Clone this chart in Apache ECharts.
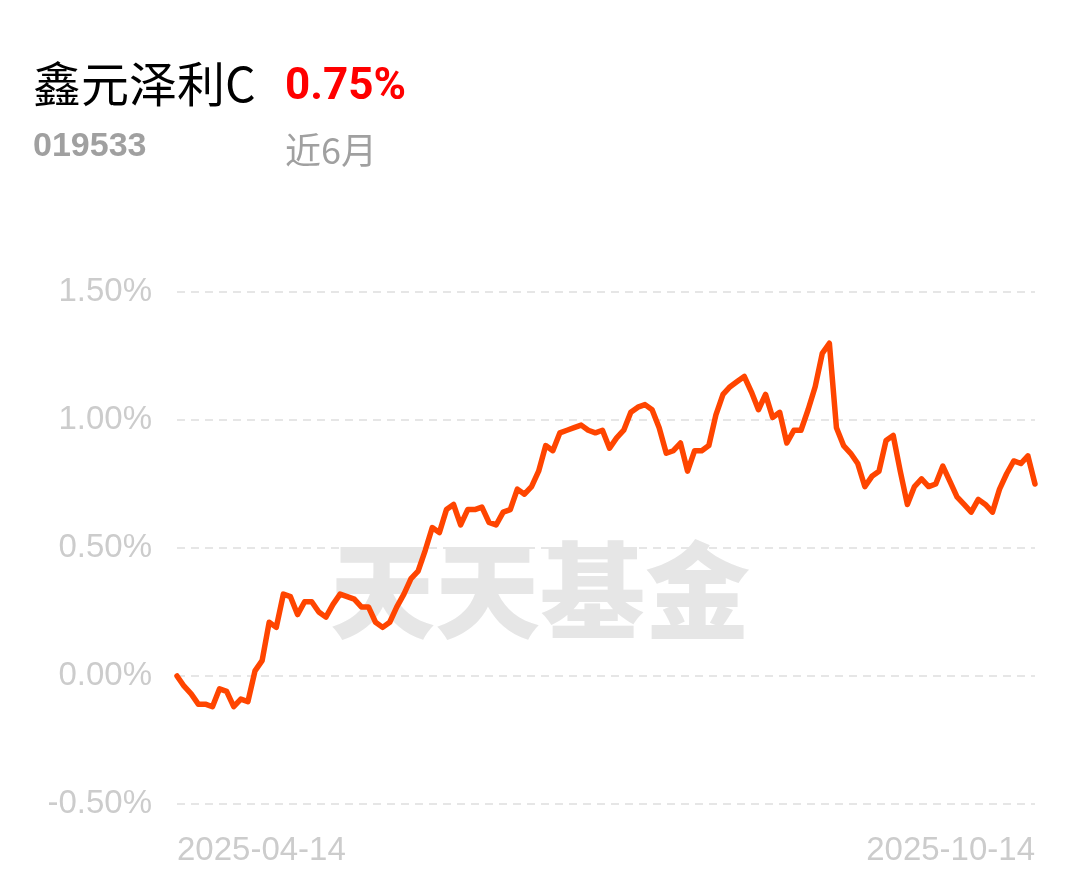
<!DOCTYPE html>
<html>
<head>
<meta charset="utf-8">
<style>
html,body{margin:0;padding:0;background:#fff;}
#chart{width:1080px;height:881px;}
</style>
<script src="https://cdn.jsdelivr.net/npm/echarts@6/dist/echarts.min.js"></script>
</head>
<body>
<div id="chart"></div>
<script>
// ---- data ----
const fundName = '鑫元泽利C';
const fundCode = '019533';
const periodReturn = '0.75%';
const periodLabel = '近6月';
const watermark = '天天基金';

const dates = [
  '2025-04-14','2025-04-15','2025-04-16','2025-04-17','2025-04-18','2025-04-21','2025-04-22','2025-04-23','2025-04-24','2025-04-25','2025-04-28','2025-04-29','2025-04-30',
  '2025-05-06','2025-05-07','2025-05-08','2025-05-09','2025-05-12','2025-05-13','2025-05-14','2025-05-15','2025-05-16','2025-05-19','2025-05-20','2025-05-21','2025-05-22','2025-05-23','2025-05-26','2025-05-27','2025-05-28','2025-05-29','2025-05-30',
  '2025-06-03','2025-06-04','2025-06-05','2025-06-06','2025-06-09','2025-06-10','2025-06-11','2025-06-12','2025-06-13','2025-06-16','2025-06-17','2025-06-18','2025-06-19','2025-06-20','2025-06-23','2025-06-24','2025-06-25','2025-06-26','2025-06-27','2025-06-30',
  '2025-07-01','2025-07-02','2025-07-03','2025-07-04','2025-07-07','2025-07-08','2025-07-09','2025-07-10','2025-07-11','2025-07-14','2025-07-15','2025-07-16','2025-07-17','2025-07-18','2025-07-21','2025-07-22','2025-07-23','2025-07-24','2025-07-25','2025-07-28','2025-07-29','2025-07-30','2025-07-31',
  '2025-08-01','2025-08-04','2025-08-05','2025-08-06','2025-08-07','2025-08-08','2025-08-11','2025-08-12','2025-08-13','2025-08-14','2025-08-15','2025-08-18','2025-08-19','2025-08-20','2025-08-21','2025-08-22','2025-08-25','2025-08-26','2025-08-27','2025-08-28','2025-08-29',
  '2025-09-01','2025-09-02','2025-09-03','2025-09-04','2025-09-05','2025-09-08','2025-09-09','2025-09-10','2025-09-11','2025-09-12','2025-09-15','2025-09-16','2025-09-17','2025-09-18','2025-09-19','2025-09-22','2025-09-23','2025-09-24','2025-09-25','2025-09-26','2025-09-29','2025-09-30',
  '2025-10-09','2025-10-10','2025-10-13','2025-10-14'
];

// cumulative return, percent
const returns = [
  0.00,-0.04,-0.07,-0.11,-0.11,-0.12,-0.05,-0.06,-0.12,-0.09,-0.10,0.02,0.06,
  0.21,0.19,0.32,0.31,0.24,0.29,0.29,0.25,0.23,0.28,0.32,0.31,0.30,0.27,0.27,0.21,0.19,0.21,
  0.27,0.32,0.38,0.41,0.49,0.58,0.56,0.65,0.67,0.59,0.65,0.65,0.66,0.60,0.59,0.64,0.65,0.73,0.71,0.74,
  0.80,0.90,0.88,0.95,0.96,0.97,0.98,0.96,0.95,0.96,0.89,0.93,0.96,1.03,1.05,1.06,1.04,0.97,0.87,0.88,0.91,0.80,
  0.88,0.88,0.90,1.02,1.10,1.13,1.15,1.17,1.11,1.04,1.10,1.01,1.03,0.91,0.96,0.96,1.04,1.13,1.26,1.30,0.97,
  0.90,0.87,0.83,0.74,0.78,0.80,0.92,0.94,0.80,0.67,0.74,0.77,0.74,0.75,0.82,0.76,0.70,0.67,0.64,0.69,0.67,0.64,
  0.73,0.79,0.84,0.83,0.86,0.75
];

const yMin = -0.5, yMax = 1.5, yStep = 0.5;

// ---- chart ----
const chart = echarts.init(document.getElementById('chart'), null, {renderer: 'canvas'});
const lastIdx = dates.length - 1;

chart.setOption({
  animation: false,
  backgroundColor: '#ffffff',
  title: [
    {text: fundName, left: 33, top: 60, padding: 0,
     textStyle: {fontSize: 48, fontWeight: 'normal', color: '#000', fontFamily: '"Noto Sans CJK SC", sans-serif'}},
    {text: periodReturn, left: 285, top: 66, padding: 0,
     textStyle: {fontSize: 44, fontWeight: 'bold', color: '#ff0000', fontFamily: 'Roboto, sans-serif'}},
    {text: fundCode, left: 33, top: 130, padding: 0,
     textStyle: {fontSize: 34, fontWeight: 'bold', color: '#a0a0a0', fontFamily: '"Liberation Sans", Arial, sans-serif'}},
    {text: periodLabel, left: 285, top: 132, padding: 0,
     textStyle: {fontSize: 36, fontWeight: 'normal', color: '#a0a0a0', fontFamily: '"Noto Sans CJK SC", sans-serif'}}
  ],
  graphic: [{
    type: 'text', left: 'center', top: 538, z: -10, silent: true,
    style: {text: watermark, fill: '#e6e6e6', font: '900 105px "Noto Sans CJK SC"'}
  }],
  grid: {left: 177, right: 45, top: 292, bottom: 77, containLabel: false},
  xAxis: {
    type: 'category',
    data: dates,
    boundaryGap: false,
    axisLine: {show: false},
    axisTick: {show: false},
    splitLine: {show: false},
    axisLabel: {
      interval: (i) => i === 0 || i === lastIdx,
      showMinLabel: true, showMaxLabel: true,
      alignMinLabel: 'left', alignMaxLabel: 'right',
      margin: 30,
      fontSize: 33,
      color: '#cccccc',
      fontFamily: '"Liberation Sans", Arial, sans-serif'
    }
  },
  yAxis: {
    type: 'value',
    min: yMin, max: yMax, interval: yStep,
    axisLine: {show: false},
    axisTick: {show: false},
    axisLabel: {
      formatter: (v) => v.toFixed(2) + '%',
      margin: 25,
      fontSize: 33,
      color: '#cccccc',
      fontFamily: '"Liberation Sans", Arial, sans-serif'
    },
    splitLine: {show: true, lineStyle: {color: '#e6e6e6', width: 2, type: [8, 6]}}
  },
  series: [{
    type: 'line',
    data: returns,
    showSymbol: false,
    smooth: false,
    z: 5,
    lineStyle: {color: '#ff4500', width: 5.5, join: 'round', cap: 'round'}
  }]
});
</script>
</body>
</html>
